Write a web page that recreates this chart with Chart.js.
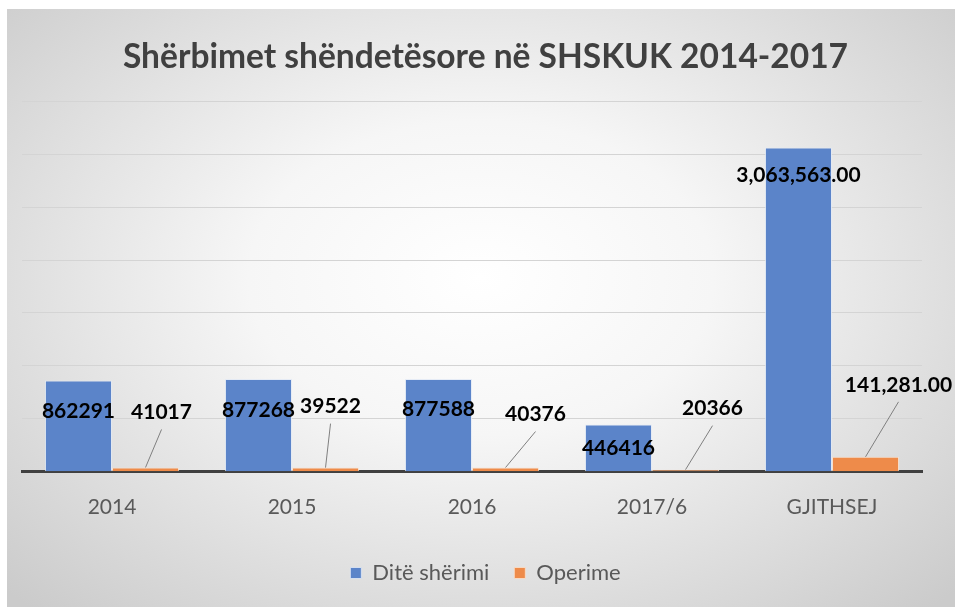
<!DOCTYPE html>
<html>
<head>
<meta charset="utf-8">
<script src="https://cdn.jsdelivr.net/npm/chart.js@4"></script>
<style>
  html, body { margin: 0; padding: 0; background: #fff; }
  #wrap {
    position: absolute; left: 7px; top: 9px; width: 948px; height: 598px;
    background: radial-gradient(ellipse 70% 75% at 50% 45%, #ffffff 0%, #f6f6f6 35%, #cbcbcb 100%);
  }
</style>
</head>
<body>
<div id="wrap"><canvas id="chart"></canvas></div>
<script>
// ---- duomenys ----
const categories = ["2014", "2015", "2016", "2017/6", "GJITHSEJ"];
const diteSherimi = [862291, 877268, 877588, 446416, 3063563];
const operime = [41017, 39522, 40376, 20366, 141281];
const yTicksMax = 3500000;
const yTicksStep = 500000;

// etikečių poslinkiai (px) nuo stulpelio viršaus
const blueLabelDy = [31, 31, 30, 24, 28];
const orangeLabelDx = [16, 5, 30, 27, 33];
const orangeLabelDy = [-55, -61, -53, -61, -72];

function fmt(v, i) {
  if (i === categories.length - 1) {
    return v.toLocaleString("en-US", { minimumFractionDigits: 2, maximumFractionDigits: 2 });
  }
  return String(v);
}

// ---- duomenų etiketės ----
const labelPlugin = {
  id: "labels",
  afterDatasetsDraw(chart) {
    const ctx = chart.ctx;
    ctx.save();
    ctx.font = "bold 21px Lato";
    ctx.fillStyle = "#000";
    ctx.textAlign = "center";
    ctx.textBaseline = "middle";

    chart.getDatasetMeta(0).data.forEach((bar, i) => {
      ctx.fillText(fmt(diteSherimi[i], i), bar.x, bar.y + blueLabelDy[i]);
    });

    chart.getDatasetMeta(1).data.forEach((bar, i) => {
      const lx = bar.x + orangeLabelDx[i];
      const ly = bar.y + orangeLabelDy[i];
      ctx.strokeStyle = "#7f7f7f";
      ctx.lineWidth = 1;
      ctx.beginPath();
      ctx.moveTo(lx, ly + 17);
      ctx.lineTo(bar.x, bar.y);
      ctx.stroke();
      ctx.fillText(fmt(operime[i], i), lx, ly);
    });
    ctx.restore();
  }
};

new Chart(document.getElementById("chart"), {
  type: "bar",
  data: {
    labels: categories,
    datasets: [
      {
        label: "Ditë shërimi",
        data: diteSherimi,
        backgroundColor: "#5b84c9",
        borderColor: "rgba(225,232,245,0.8)",
        borderWidth: 1,
        categoryPercentage: 0.745,
        barPercentage: 1,
      },
      {
        label: "Operime",
        data: operime,
        backgroundColor: "#ee8b4a",
        borderColor: "rgba(250,225,205,0.8)",
        borderWidth: 1,
        categoryPercentage: 0.745,
        barPercentage: 1,
      },
    ],
  },
  options: {
    responsive: true,
    maintainAspectRatio: false,
    animation: false,
    layout: { padding: { left: 15, right: 6, top: 0, bottom: 13 } },
    plugins: {
      title: {
        display: true,
        text: "Shërbimet shëndetësore në SHSKUK 2014-2017",
        color: "#404040",
        font: { family: "Lato", size: 33.5, weight: "bold" },
        padding: { top: 28, bottom: 24 },
      },
      legend: {
        position: "bottom",
        labels: {
          color: "#595959",
          font: { family: "Lato", size: 22 },
          boxWidth: 11,
          boxHeight: 11,
          padding: 25,
        },
      },
      tooltip: { enabled: false },
    },
    scales: {
      x: {
        grid: { display: false, drawTicks: false },
        border: { display: true, color: "#404040", width: 3 },
        ticks: {
          color: "#595959",
          font: { family: "Lato", size: 21 },
          padding: 23,
        },
        afterFit(scale) { scale.height -= 6; },
      },
      y: {
        position: "right",
        min: 0,
        max: yTicksMax,
        ticks: { display: false, stepSize: yTicksStep },
        grid: { color: "#d4d4d4", lineWidth: 1, drawTicks: false },
        border: { display: false },
        afterFit(scale) { scale.width = 27; },
      },
    },
  },
  plugins: [labelPlugin],
});
</script>
</body>
</html>
